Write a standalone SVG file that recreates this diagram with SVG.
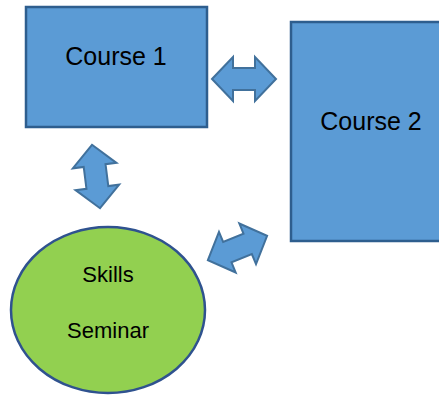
<svg xmlns="http://www.w3.org/2000/svg" width="439" height="396" viewBox="0 0 439 396">
<style>
.box{fill:#5B9BD5;stroke:#2E5E8E;stroke-width:2.5}
.oval{fill:#92D050;stroke:#2F528F;stroke-width:2.5}
.arr{fill:#5B9BD5;stroke:#41719C;stroke-width:2;stroke-linejoin:miter}
.lbl{font-family:"Liberation Sans",Arial,sans-serif;fill:#000;text-anchor:middle}
</style>
<defs>
<polygon id="dbl" points="-32,0 -11,-22 -11,-11 11,-11 11,-22 32,0 11,22 11,11 -11,11 -11,22"/>
</defs>
<rect width="439" height="396" fill="#fff"/>
<g id="course1">
<rect class="box" x="26" y="7" width="181" height="120"/>
<text class="lbl" x="116" y="65" font-size="25">Course 1</text>
</g>
<g id="course2">
<rect class="box" x="291" y="22" width="152" height="219"/>
<text class="lbl" x="371" y="130" font-size="25">Course 2</text>
</g>
<g id="skills">
<ellipse class="oval" cx="108" cy="310" rx="97" ry="83"/>
<text class="lbl" x="108" y="282" font-size="22">Skills</text>
<text class="lbl" x="108" y="338" font-size="22">Seminar</text>
</g>
<g id="connectors">
<use href="#dbl" class="arr" transform="translate(244,79)"/>
<use href="#dbl" class="arr" transform="translate(96,176.5) rotate(82.8)"/>
<use href="#dbl" class="arr" transform="translate(237.5,248) rotate(-22.3)"/>
</g>
</svg>
